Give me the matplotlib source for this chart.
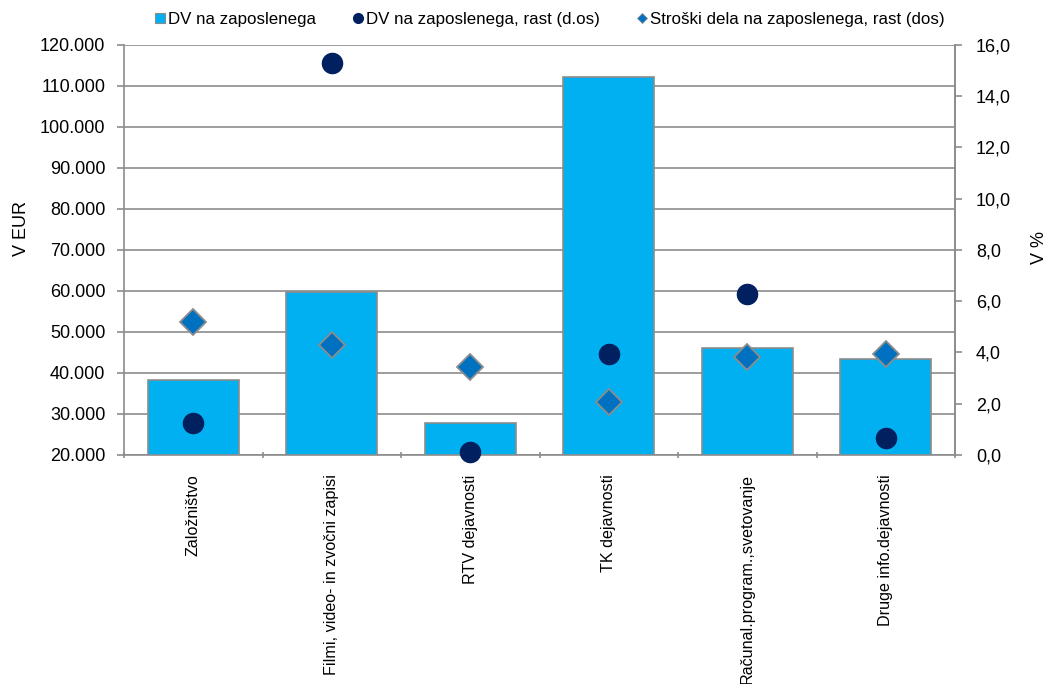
import matplotlib
matplotlib.use("Agg")
import matplotlib.pyplot as plt
from matplotlib.ticker import FuncFormatter, MultipleLocator
from matplotlib.lines import Line2D
import numpy as np

plt.rcParams['font.family'] = ['Liberation Sans', 'DejaVu Sans']

categories = ["Založništvo", "Filmi, video- in zvočni zapisi", "RTV dejavnosti",
              "TK dejavnosti", "Računal.program.,svetovanje", "Druge info.dejavnosti"]
dv_per_employee = [38300, 59700, 27700, 112100, 46000, 43300]
dv_growth = [1.24, 15.3, 0.13, 3.94, 6.28, 0.67]
labour_cost_growth = [5.18, 4.29, 3.42, 2.06, 3.81, 3.93]

bar_color = "#00B0F0"
dot_color = "#002060"
dia_color = "#0070C0"
grid_color = "#8C8C8C"

fig = plt.figure(figsize=(10.51, 6.84), dpi=100)
ax = fig.add_axes([0.118, 0.3348, 0.7907, 0.5998])
x = np.arange(len(categories))
ax.bar(x, dv_per_employee, width=0.66, bottom=0, color=bar_color,
       edgecolor=grid_color, linewidth=1.2, zorder=2)
ax.set_ylim(20000, 120000)
ax.set_xlim(-0.5, len(categories) - 0.5)
ax.yaxis.set_major_locator(MultipleLocator(10000))
ax.yaxis.set_major_formatter(FuncFormatter(lambda v, p: f"{int(v):,}".replace(",", ".")))
ax.grid(axis='y', color=grid_color, linewidth=1.2, zorder=0)
ax.set_axisbelow(True)
ax.set_xticks(np.arange(len(categories) + 1) - 0.5)
ax.set_xticklabels([])
ax.set_xticks(x, minor=True)
ax.set_xticklabels(categories, minor=True, rotation=90, va='top', ha='center', fontsize=11.6)
ax.tick_params(axis='x', which='minor', length=0, pad=14)
ax.tick_params(axis='x', which='major', length=5, color=grid_color, width=1.2, direction='inout')
ax.tick_params(axis='y', length=5, color=grid_color, width=1.2, labelsize=13, pad=8.5)
ax.spines['top'].set_visible(False)
for s in ['left', 'bottom', 'right']:
    ax.spines[s].set_color(grid_color)
    ax.spines[s].set_linewidth(1.2)
ax.set_ylabel("V EUR", fontsize=13)
ax.yaxis.set_label_coords(-0.113, 0.553)

ax2 = ax.twinx()
ax2.set_ylim(0, 16)
ax2.yaxis.set_major_locator(MultipleLocator(2))
ax2.yaxis.set_major_formatter(FuncFormatter(lambda v, p: f"{v:.1f}".replace(".", ",")))
ax2.tick_params(axis='y', length=5, color=grid_color, width=1.2, labelsize=13, pad=10)
for s in ['top', 'left', 'bottom']:
    ax2.spines[s].set_visible(False)
ax2.spines['right'].set_color(grid_color)
ax2.spines['right'].set_linewidth(1.2)
ax2.plot(x, labour_cost_growth, linestyle='none', marker='D', markersize=13,
         markerfacecolor=dia_color, markeredgecolor=grid_color, markeredgewidth=1.3,
         zorder=3, clip_on=False)
ax2.plot(x, dv_growth, linestyle='none', marker='o', markersize=14.5,
         markerfacecolor=dot_color, markeredgecolor=dot_color, zorder=4, clip_on=False)
ax2.set_ylabel("V %", fontsize=13)
ax2.yaxis.set_label_coords(1.091, 0.505)

handles = [
    Line2D([], [], linestyle='none', marker='s', markersize=7, markerfacecolor=bar_color,
           markeredgecolor=grid_color, markeredgewidth=0.8),
    Line2D([], [], linestyle='none', marker='o', markersize=7, markerfacecolor=dot_color,
           markeredgecolor=dot_color),
    Line2D([], [], linestyle='none', marker='D', markersize=5.5, markerfacecolor=dia_color,
           markeredgecolor=grid_color, markeredgewidth=0.6),
]
labels = ["DV na zaposlenega", "DV na zaposlenega, rast (d.os)",
          "Stroški dela na zaposlenega, rast (dos)"]
fig.legend(handles, labels, loc='center', bbox_to_anchor=(0.522, 0.972), ncol=3,
           frameon=False, fontsize=12.2, handletextpad=0.05, columnspacing=2.0,
           handlelength=0.9)

fig.savefig("out.png", dpi=100)
